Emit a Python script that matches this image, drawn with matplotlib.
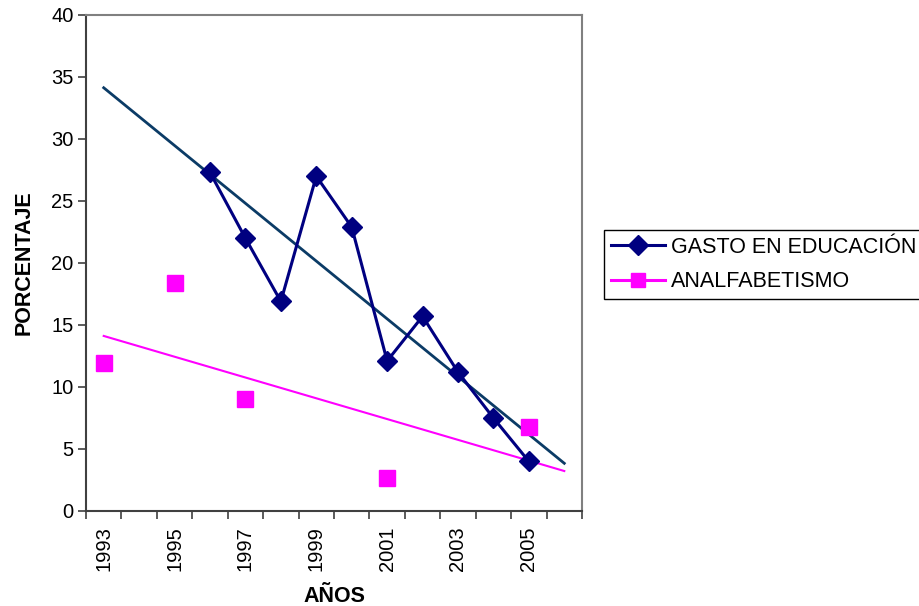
import numpy as np
import matplotlib
matplotlib.use("Agg")
import matplotlib.pyplot as plt

plt.rcParams['font.family'] = ['Liberation Sans', 'DejaVu Sans']

# data
years = list(range(1993, 2007))
gasto_years = [1996, 1997, 1998, 1999, 2000, 2001, 2002, 2003, 2004, 2005]
gasto = [27.3, 22.0, 16.9, 27.0, 22.9, 12.1, 15.7, 11.2, 7.5, 4.0]
analf_years = [1993, 1995, 1997, 2001, 2005]
analf = [11.9, 18.4, 9.0, 2.7, 6.8]
tick_years = [1993, 1995, 1997, 1999, 2001, 2003, 2005]

NAVY = '#000080'
TREND = '#0b3b66'
MAGENTA = '#ff00ff'

fig = plt.figure(figsize=(9.2, 6.06), dpi=100)
ax = fig.add_axes([86 / 920, 95 / 606, 496 / 920, 496 / 606])

# category positions: 1993 -> 1, ..., 2006 -> 14 (Excel-style)
def pos(ys):
    return np.array([years.index(y) + 1 for y in ys], dtype=float)

gx = pos(gasto_years)
axx = pos(analf_years)

ax.plot(gx, gasto, color=NAVY, lw=2.2, marker='D', ms=10,
        mfc=NAVY, mec=NAVY, zorder=3)
ax.plot(axx, analf, ls='none', marker='s', ms=11.5, mfc=MAGENTA, mec=MAGENTA,
        zorder=3)

# linear trendlines over full category range
xs = np.array([1.0, len(years)])
k, b = np.polyfit(gx, gasto, 1)
ax.plot(xs, k * xs + b, color=TREND, lw=2.0, zorder=2)
k2, b2 = np.polyfit(axx, analf, 1)
ax.plot(xs, k2 * xs + b2, color=MAGENTA, lw=1.5, zorder=2)

ax.set_xlim(0.5, len(years) + 0.5)
ax.set_ylim(0, 40)
ax.set_yticks(range(0, 41, 5))

ax.set_xticks(np.arange(0.5, len(years) + 1, 1.0))
ax.set_xticklabels([])
ax.set_xticks(pos(tick_years), minor=True)
ax.set_xticklabels([str(y) for y in tick_years], minor=True, rotation=90)
ax.tick_params(axis='x', which='major', length=6, width=1.2, color='#404040', direction='out')
ax.tick_params(axis='x', which='minor', length=0, pad=11, labelsize=14.5)
ax.tick_params(axis='y', length=6, width=1.2, color='#404040', labelsize=14.5, pad=3)

for s in ['left', 'bottom']:
    ax.spines[s].set_color('#404040')
    ax.spines[s].set_linewidth(1.5)
for s in ['top', 'right']:
    ax.spines[s].set_color('#808080')
    ax.spines[s].set_linewidth(1.5)

ax.set_xlabel('AÑOS', fontsize=15.5, fontweight='bold', labelpad=11)
ax.set_ylabel('PORCENTAJE', fontsize=15.5, fontweight='bold', labelpad=12)

# legend shows the magenta entry with a line, as in the original
h1 = plt.Line2D([], [], color=NAVY, lw=2.2, marker='D', ms=10, mfc=NAVY, mec=NAVY)
h2 = plt.Line2D([], [], color=MAGENTA, lw=2.2, marker='s', ms=10.5, mfc=MAGENTA, mec=MAGENTA)
leg = fig.legend([h1, h2], ['GASTO EN EDUCACIÓN', 'ANALFABETISMO'],
                 loc='upper left', bbox_to_anchor=(604 / 920, 1 - 230 / 606),
                 fontsize=15.5, frameon=True, fancybox=False, framealpha=1,
                 edgecolor='black', handlelength=2.5, handletextpad=0.3,
                 borderpad=0.32, labelspacing=0.62, borderaxespad=0)
leg.get_frame().set_linewidth(1.0)

fig.savefig('out.png', dpi=100)
